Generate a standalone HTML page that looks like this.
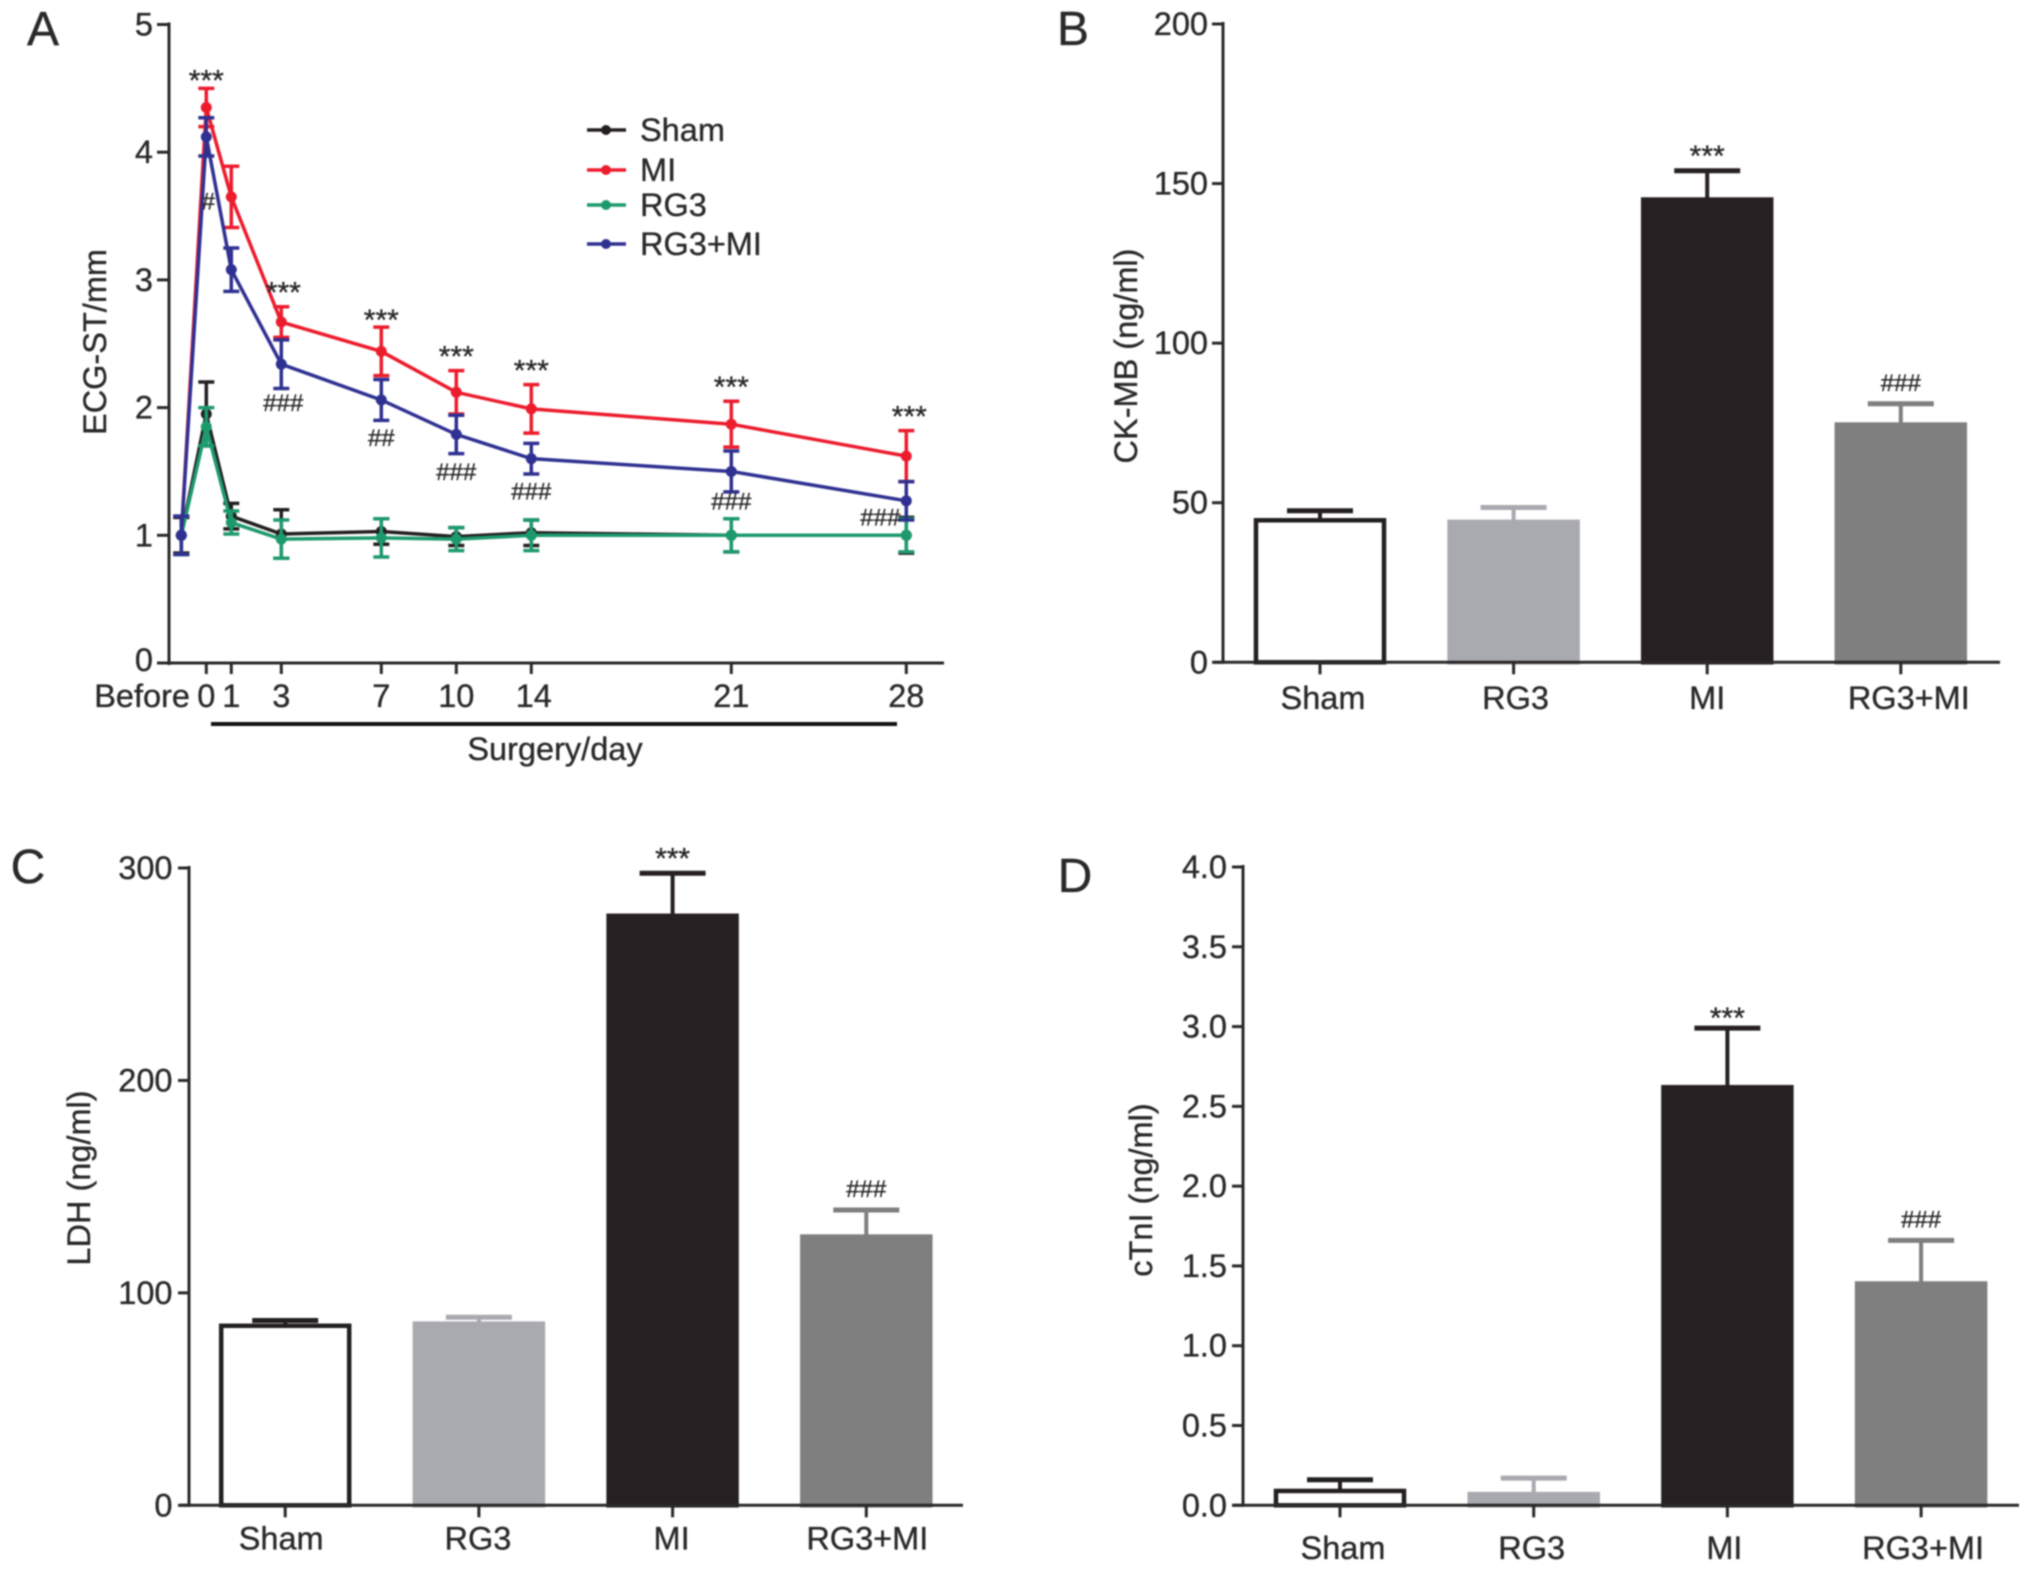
<!DOCTYPE html>
<html lang="en">
<head>
<meta charset="utf-8">
<title>Cardiac injury markers</title>
<style>
html,body{margin:0;padding:0;background:#fff;}
#figure{display:block;width:2032px;height:1572px;filter:blur(0.7px);}
text{font-family:"Liberation Sans",sans-serif;fill:#2b2829;stroke:#2b2829;stroke-width:0.35px;}
</style>
</head>
<body>
<svg id="figure" xmlns="http://www.w3.org/2000/svg" width="2032" height="1572" viewBox="0 0 2032 1572"></svg>
<script>
// ---------- Panel A data ----------
const dayCoords = [-1, 0, 1, 3, 7, 10, 13, 21, 28];
const dayLabels = ['Before', '0', '1', '3', '7', '10', '14', '21', '28'];
const ecgTicks = [0, 1, 2, 3, 4, 5];
const shamValues = [1.0, 1.95, 1.15, 1.01, 1.03, 0.99, 1.02, 1.0, 1.0];
const shamErrors = [0.14, 0.25, 0.10, 0.19, 0.10, 0.07, 0.10, 0.13, 0.14];
const miValues = [1.0, 4.35, 3.65, 2.67, 2.44, 2.12, 1.99, 1.87, 1.62];
const miErrors = [0.14, 0.15, 0.24, 0.12, 0.19, 0.17, 0.19, 0.18, 0.20];
const rg3Values = [1.0, 1.85, 1.10, 0.97, 0.98, 0.97, 1.0, 1.0, 1.0];
const rg3Errors = [0.15, 0.15, 0.09, 0.15, 0.15, 0.09, 0.12, 0.13, 0.13];
const comboValues = [1.0, 4.12, 3.08, 2.34, 2.06, 1.79, 1.60, 1.50, 1.27];
const comboErrors = [0.15, 0.15, 0.17, 0.19, 0.16, 0.15, 0.12, 0.16, 0.15];
const hashLabels = ['', '#', '', '###', '##', '###', '###', '###', '###'];
const starLabels = ['', '***', '', '***', '***', '***', '***', '***', '***'];

// ---------- Bar panel data ----------
const barCategories = ['Sham', 'RG3', 'MI', 'RG3+MI'];
const ckmbValues = [44.5, 44, 145, 74.5];
const ckmbUpper = [47.5, 48.5, 154, 81];
const ckmbTicks = [0, 50, 100, 150, 200];
const ldhValues = [84.5, 85.5, 277.5, 126.5];
const ldhUpper = [87, 88.5, 297.5, 139];
const ldhTicks = [0, 100, 200, 300];
const ctniValues = [0.09, 0.07, 2.62, 1.39];
const ctniUpper = [0.16, 0.17, 2.99, 1.66];
const ctniTicks = ['0.0', '0.5', '1.0', '1.5', '2.0', '2.5', '3.0', '3.5', '4.0'];

const NS = 'http://www.w3.org/2000/svg';
const root = document.getElementById('figure');
const INK = '#2b2829';
const FS = 32.5;

function make(tag, parent, name, attrs, content) {
  const node = document.createElementNS(NS, tag);
  for (const k in attrs) node.setAttribute(k, attrs[k]);
  
  
  if (content !== undefined) node.textContent = content;
  parent.appendChild(node);
  return node;
}
function seg(parent, name, x1, y1, x2, y2, color, w) {
  return make('line', parent, name, {x1: x1, y1: y1, x2: x2, y2: y2, stroke: color, 'stroke-width': w});
}
function label(parent, name, x, y, str, anchor, size, extra) {
  const attrs = Object.assign({x: x, y: y, 'text-anchor': anchor || 'middle', 'font-size': size || FS}, extra || {});
  return make('text', parent, name, attrs, str);
}
function rotatedTitle(parent, name, x, y, str) {
  return label(parent, name, x, y, str, 'middle', FS, {transform: 'rotate(-90 ' + x + ' ' + y + ')'});
}

// ---------- Panel A ----------
const panelA = make('g', root, 'panel-a-ecg-line-chart', {});
const ax = t => 206.3 + 25 * t;
const ay = v => 663 - 127.7 * v;
label(panelA, 'panel-letter-a', 43, 45, 'A', 'middle', 48);
seg(panelA, 'y-axis', 169, ay(5) - 2, 169, 665, INK, 3);
seg(panelA, 'x-axis', 160, 663, 944, 663, INK, 3);
ecgTicks.forEach(function (t) {
  seg(panelA, 'y-tick', 157, ay(t), 169, ay(t), INK, 3);
  label(panelA, 'y-tick-label', 153, ay(t) + 11 - (t === 0 ? 3 : 0), String(t), 'end');
});
dayLabels.forEach(function (lab, i) {
  if (i === 0) {
    label(panelA, 'x-tick-label', 190, 707, lab, 'end');
    return;
  }
  seg(panelA, 'x-tick', ax(dayCoords[i]), 663, ax(dayCoords[i]), 674, INK, 3);
  label(panelA, 'x-tick-label', ax(dayCoords[i]) + (i === 6 ? 2.5 : 0), 707, lab);
});
rotatedTitle(panelA, 'y-axis-title', 106, 342, 'ECG-ST/mm');
seg(panelA, 'surgery-period-bar', 211, 724, 897, 724, '#111', 4);
label(panelA, 'x-axis-title', 555, 760, 'Surgery/day');

function drawSeries(name, values, errors, color) {
  const g = make('g', panelA, 'series-' + name, {});
  values.forEach(function (v, i) {
    const x = ax(dayCoords[i]);
    seg(g, 'error-bar', x, ay(v + errors[i]), x, ay(v - errors[i]), color, 3.5);
    seg(g, 'error-cap-top', x - 8, ay(v + errors[i]), x + 8, ay(v + errors[i]), color, 3.5);
    seg(g, 'error-cap-bottom', x - 8, ay(v - errors[i]), x + 8, ay(v - errors[i]), color, 3.5);
  });
  const pts = values.map(function (v, i) { return ax(dayCoords[i]) + ',' + ay(v); }).join(' ');
  make('polyline', g, 'line', {points: pts, fill: 'none', stroke: color, 'stroke-width': 3.5});
  values.forEach(function (v, i) {
    make('circle', g, 'point', {cx: ax(dayCoords[i]), cy: ay(v), r: 5.5, fill: color});
  });
}
drawSeries('mi', miValues, miErrors, '#ec1c2d');
drawSeries('sham', shamValues, shamErrors, '#231f20');
drawSeries('rg3', rg3Values, rg3Errors, '#1d9a6c');
drawSeries('rg3-mi', comboValues, comboErrors, '#2f3192');

starLabels.forEach(function (s, i) {
  if (!s) return;
  const gap = (i === 1) ? 2 : (i === 4) ? 3 : -4;
  label(panelA, 'significance-stars', ax(dayCoords[i]) + (i === 8 ? 3 : i === 3 ? 2 : 0), ay(miValues[i] + miErrors[i]) + gap, s, 'middle', 30);
});
hashLabels.forEach(function (s, i) {
  if (!s) return;
  const lower = ay(comboValues[i] - comboErrors[i]);
  let x = ax(dayCoords[i]);
  let y = lower + 17;
  if (i === 1) { x += 2; y = lower + 45; }
  if (i === 3) { x += 2; y = lower + 14; }
  if (i === 5) { y = lower + 18; }
  if (i === 7) { y = lower + 9; }
  if (i === 8) { x -= 26; y = lower - 3; }
  label(panelA, 'significance-hashes', x, y + 8.5, s, 'middle', 24);
});

const legendNames = ['Sham', 'MI', 'RG3', 'RG3+MI'];
const legendColors = ['#231f20', '#ec1c2d', '#1d9a6c', '#2f3192'];
const legendRows = [130, 170, 205, 244];
legendNames.forEach(function (n, i) {
  const g = make('g', panelA, 'legend-entry', {});
  seg(g, 'legend-line', 587, legendRows[i], 626, legendRows[i], legendColors[i], 3.5);
  make('circle', g, 'legend-marker', {cx: 606, cy: legendRows[i], r: 5, fill: legendColors[i]});
  label(g, 'legend-label', 640, legendRows[i] + 11, n, 'start');
});

// ---------- Bar panels ----------
const barFills = ['#ffffff', '#a9a9b0', '#272022', '#7f7f7f'];
const barStrokes = ['#231f20', '#a9a9b0', '#272022', '#7f7f7f'];

function barPanel(cfg) {
  const g = make('g', root, cfg.name, {});
  const yPos = v => cfg.y0 - (cfg.y0 - cfg.yTop) * v / cfg.yMax;
  const xPos = i => cfg.xFirst + cfg.xStep * i;
  label(g, cfg.letterName, cfg.letterX, cfg.letterY, cfg.letter, 'middle', 48);
  seg(g, 'y-axis', cfg.axisX, cfg.yTop - 2, cfg.axisX, cfg.y0 + 1.5, INK, 3);
  cfg.ticks.forEach(function (t) {
    const v = parseFloat(t);
    seg(g, 'y-tick', cfg.axisX - 11, yPos(v), cfg.axisX, yPos(v), INK, 3);
    label(g, 'y-tick-label', cfg.labelRight, yPos(v) + 11, String(t), 'end');
  });
  rotatedTitle(g, 'y-axis-title', cfg.titleX, cfg.titleY, cfg.title);
  barCategories.forEach(function (c, i) {
    const x = xPos(i);
    const top = yPos(cfg.values[i]);
    const up = yPos(cfg.upper[i]);
    seg(g, 'error-stem-' + c.toLowerCase().replace('+', '-'), x, up, x, top, barStrokes[i], 4);
    seg(g, 'error-cap-' + c.toLowerCase().replace('+', '-'), x - 33, up, x + 33, up, barStrokes[i], 5);
    make('rect', g, 'bar-' + c.toLowerCase().replace('+', '-'), {
      x: x - 64, y: top, width: 128, height: cfg.y0 - top,
      fill: barFills[i], stroke: barStrokes[i], 'stroke-width': 4.5
    });
    seg(g, 'x-tick', x, cfg.y0, x, cfg.y0 + 12, INK, 3);
    label(g, 'x-tick-label', x + cfg.labelShift[i], cfg.labelBase, c);
  });
  seg(g, 'x-axis', cfg.xStart, cfg.y0, cfg.xEnd, cfg.y0, INK, 3);
  label(g, 'significance-stars', xPos(2), yPos(cfg.upper[2]) + cfg.starGap, '***', 'middle', 30);
  label(g, 'significance-hashes', xPos(3), yPos(cfg.upper[3]) - 13, '###', 'middle', 24);
}

const shiftB = [3, 2, 0, 8];
const shiftC = [-4, -1, -1, 1];
const shiftD = [3, -2, -3, 2];

barPanel({
  name: 'panel-b-ckmb-bar-chart', letter: 'B', letterName: 'panel-letter-b', letterX: 1073, letterY: 45,
  y0: 662.3, yTop: 24, yMax: 200, axisX: 1223, xStart: 1214, xEnd: 2000, labelRight: 1208,
  ticks: ckmbTicks, values: ckmbValues, upper: ckmbUpper, starGap: -5,
  xFirst: 1320, xStep: 193.6, labelBase: 709, labelShift: shiftB,
  title: 'CK-MB (ng/ml)', titleX: 1137, titleY: 356
});
barPanel({
  name: 'panel-c-ldh-bar-chart', letter: 'C', letterName: 'panel-letter-c', letterX: 28, letterY: 883,
  y0: 1505.3, yTop: 868, yMax: 300, axisX: 189, xStart: 180, xEnd: 963, labelRight: 172.5,
  ticks: ldhTicks, values: ldhValues, upper: ldhUpper, starGap: -5,
  xFirst: 285.2, xStep: 193.7, labelBase: 1549.5, labelShift: shiftC,
  title: 'LDH (ng/ml)', titleX: 90, titleY: 1178
});
barPanel({
  name: 'panel-d-ctni-bar-chart', letter: 'D', letterName: 'panel-letter-d', letterX: 1075, letterY: 892,
  y0: 1505.3, yTop: 867, yMax: 4, axisX: 1243, xStart: 1233, xEnd: 2019, labelRight: 1227,
  ticks: ctniTicks, values: ctniValues, upper: ctniUpper, starGap: 0,
  xFirst: 1340, xStep: 193.7, labelBase: 1559, labelShift: shiftD,
  title: 'cTnI (ng/ml)', titleX: 1152, titleY: 1190
});
</script>
</body>
</html>
